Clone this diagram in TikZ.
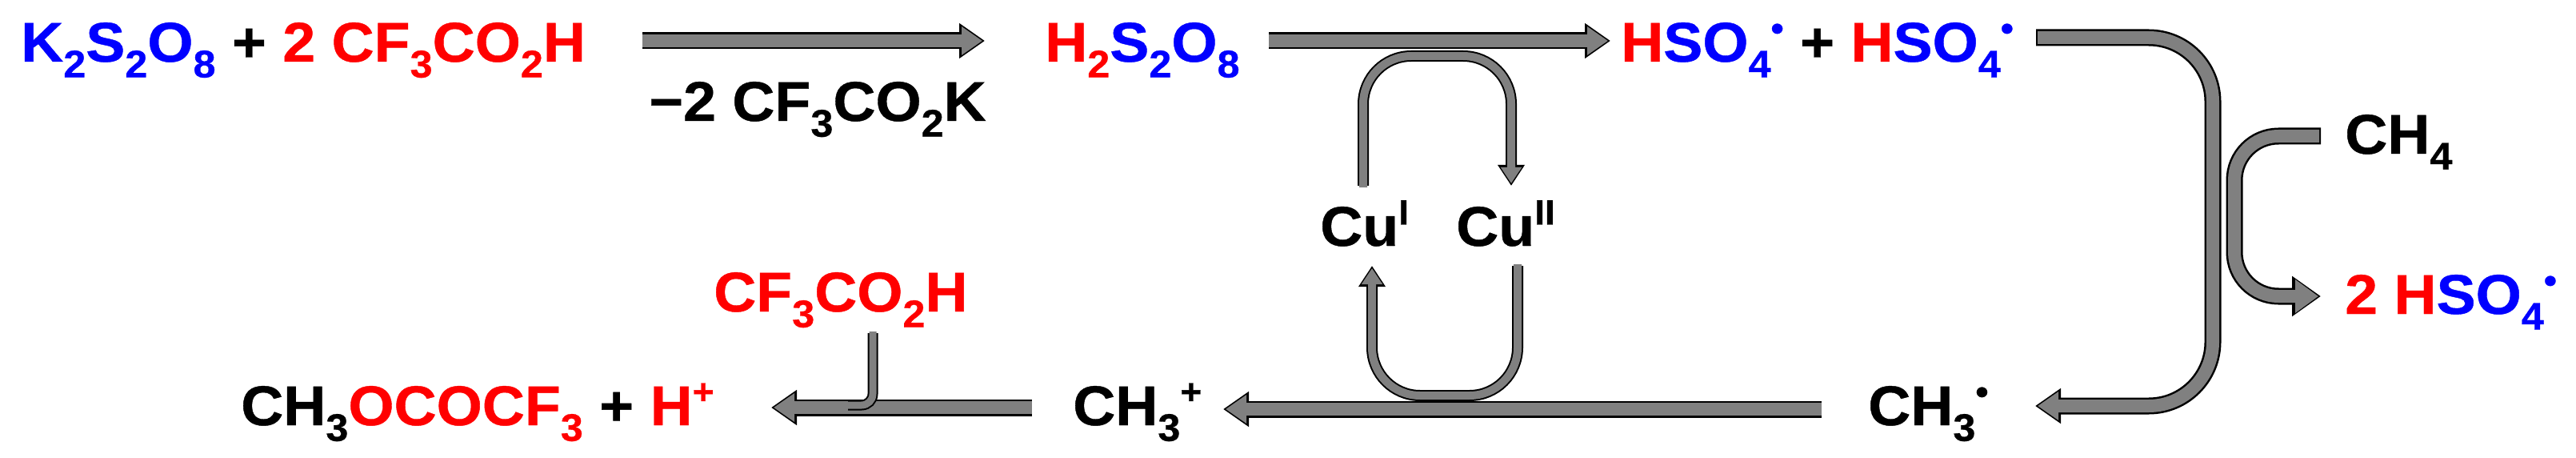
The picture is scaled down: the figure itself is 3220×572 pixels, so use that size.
\documentclass[tikz,border=0pt]{standalone}
\usepackage{fontspec}
\setmainfont[FakeStretch=1.05,FakeBold=0.6]{Liberation Sans}
\usetikzlibrary{arrows.meta}
\definecolor{cb}{RGB}{0,0,255}
\definecolor{cr}{RGB}{255,0,0}
\definecolor{ag}{RGB}{128,128,128}
\newcommand\sbs[1]{\raisebox{-0.28em}{\fontsize{48}{50}\selectfont #1}}
\newcommand\sps[1]{\raisebox{0.38em}{\fontsize{44}{46}\selectfont #1}}
\newcommand\B[1]{\textcolor{cb}{#1}}
\newcommand\R[1]{\textcolor{cr}{#1}}
\tikzset{
 chem/.style={inner sep=0pt,anchor=base west,font=\fontsize{70}{80}\selectfont\bfseries},
 fatout/.style={line width=21pt,black,-{Triangle[length=32pt,width=42pt]}},
 fatin/.style={line width=16pt,ag,shorten >=3pt,-{Triangle[length=26pt,width=34pt]}},
 thinout/.style={line width=14pt,black,-{Triangle[length=26pt,width=32pt]}},
 thinin/.style={line width=10pt,ag,shorten >=3pt,-{Triangle[length=20pt,width=25pt]}},
 bigout/.style={line width=21pt,black,-{Triangle[length=36pt,width=48pt]}},
 bigin/.style={line width=16pt,ag,shorten >=3pt,-{Triangle[length=29pt,width=40pt]}},
}
\begin{document}
\begin{tikzpicture}[x=1pt,y=-1pt]
\useasboundingbox (0,0) rectangle (3220,572);
% texts
\node[chem] (r1) at (26,77) {\B{K\sbs{2}S\sbs{2}O\sbs{8}} + \R{2 CF\sbs{3}CO\sbs{2}H}};
\node[chem] (lab) at (811,151) {−2 CF\sbs{3}CO\sbs{2}K};
\node[chem] (h2s) at (1306,77) {\R{H\sbs{2}}\B{S\sbs{2}O\sbs{8}}};
\node[chem] (hso) at (2026,77) {\R{H}\B{SO\sbs{4}\sps{•}} + \R{H}\B{SO\sbs{4}\sps{•}}};
\node[chem] (cu1) at (1650,307) {Cu\sps{I}};
\node[chem] (cu2) at (1820,307) {Cu\sps{II}};
\node[chem] (ch4) at (2931,192) {CH\sbs{4}};
\node[chem] (hso2) at (2931,392) {\R{2 H}\B{SO\sbs{4}\sps{•}}};
\node[chem] (ch3r) at (2335,531) {CH\sbs{3}\sps{•}};
\node[chem] (ch3p) at (1341,531) {CH\sbs{3}\sps{+}};
\node[chem] (tfa) at (892,389) {\R{CF\sbs{3}CO\sbs{2}H}};
\node[chem] (prod) at (301,531) {CH\sbs{3}\R{OCOCF\sbs{3}} + \R{H\sps{+}}};
% coordinates
\coordinate (a1s) at (803,51); \coordinate (a1e) at (1231,51);
\coordinate (a2s) at (1586,51); \coordinate (a2e) at (2013,51);
\coordinate (b1s) at (2277,511); \coordinate (b1e) at (1529,511);
\coordinate (b2s) at (1290,509); \coordinate (b2e) at (964,509);
\coordinate (cuus) at (1704,232); \coordinate (cuue) at (1889,232);
\coordinate (culs) at (1897,332); \coordinate (cule) at (1715,332);
\coordinate (rs) at (2545,47); \coordinate (re) at (2544,507);
\coordinate (ms) at (2901,170); \coordinate (me) at (2901,370);
\coordinate (ts) at (1091,416);
% straight arrows
\foreach \s/\e in {a1s/a1e,a2s/a2e,b1s/b1e,b2s/b2e}{
 \draw[fatout] (\s) -- (\e); \draw[fatin] (\s) -- (\e);}
% CF3CO2H feed
\draw[black,line width=13pt,rounded corners=14pt] (ts) -- (1091,506) -- (1060,506);
\draw[ag,line width=9pt,rounded corners=14pt] ([yshift=2pt]ts) -- (1091,506) -- (1058,506);
% Cu loops
\draw[thinout,rounded corners=60pt] (cuus) -- (1704,70) -- (1889,70) -- (cuue);
\draw[thinin,rounded corners=60pt] ([yshift=-2pt]cuus) -- (1704,70) -- (1889,70) -- (cuue);
\draw[thinout,rounded corners=60pt] (culs) -- (1897,494) -- (1715,494) -- (cule);
\draw[thinin,rounded corners=60pt] ([yshift=2pt]culs) -- (1897,494) -- (1715,494) -- (cule);
% big right curve
\draw[fatout,rounded corners=80pt] (rs) -- (2766,47) -- (2766,507) -- (re);
\draw[fatin,rounded corners=80pt] ([xshift=2pt]rs) -- (2766,47) -- (2766,507) -- (re);
% CH4 curve
\draw[bigout,rounded corners=55pt] (ms) -- (2793,170) -- (2793,370) -- (me);
\draw[bigin,rounded corners=55pt] ([xshift=-2pt]ms) -- (2793,170) -- (2793,370) -- (me);
\end{tikzpicture}
\end{document}
